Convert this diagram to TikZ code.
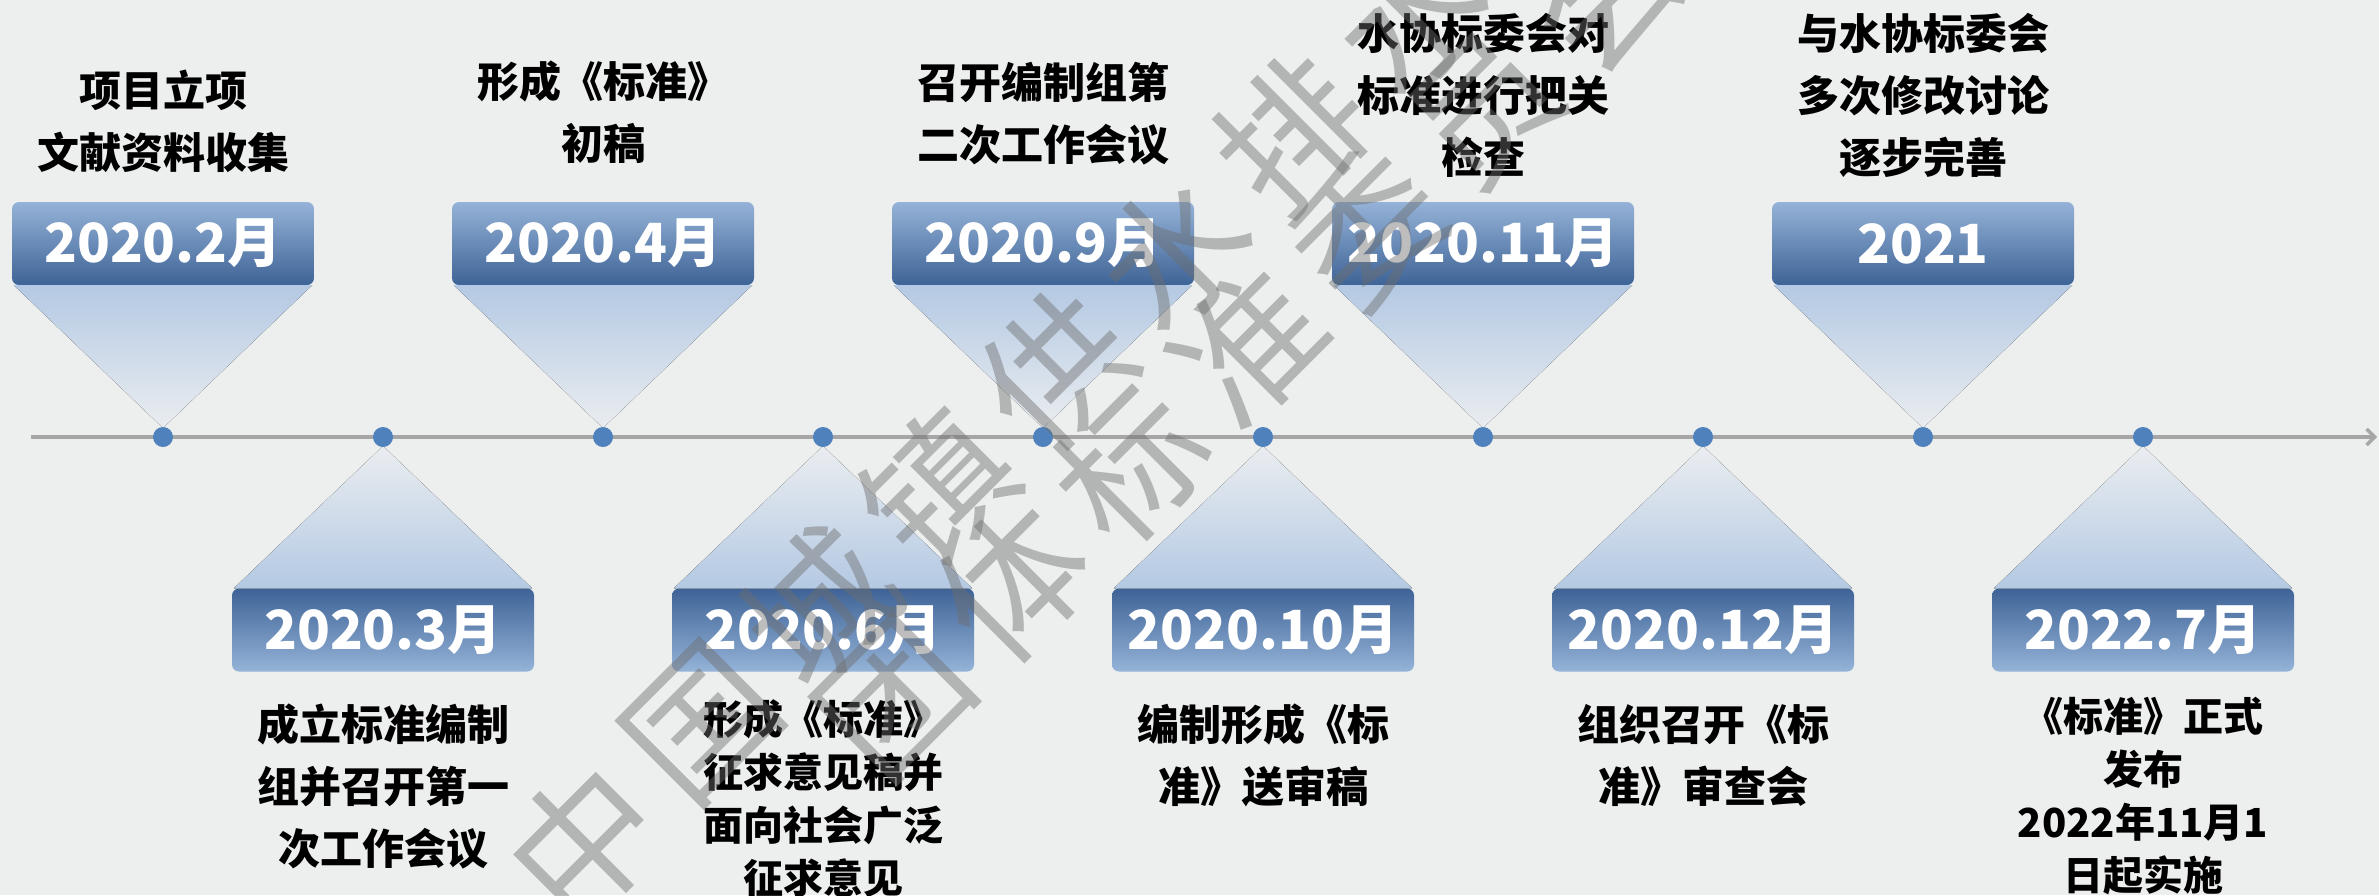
\documentclass[tikz,border=0pt]{standalone}
\usepackage{fontspec}
\newfontfamily\cjk{Noto Sans CJK SC}[BoldFont={Noto Sans CJK SC Black}]
\usetikzlibrary{arrows.meta}
\definecolor{bg}{RGB}{237,239,238}
\definecolor{boxlight}{RGB}{149,179,216}
\definecolor{boxdark}{RGB}{62,99,150}
\definecolor{funnel}{RGB}{180,201,227}
\definecolor{funnelfade}{RGB}{234,237,240}
\definecolor{dotblue}{RGB}{79,129,189}
\definecolor{axisgray}{RGB}{166,166,166}
\definecolor{wmgray}{RGB}{110,110,110}
\tikzset{
  datebox/.style={rounded corners=7pt, minimum width=302pt, minimum height=83pt, inner sep=0pt,
    text=white, font=\cjk\bfseries\fontsize{54}{60}\selectfont},
  upbox/.style={datebox, top color=boxlight, bottom color=boxdark},
  downbox/.style={datebox, top color=boxdark, bottom color=boxlight},
  upfunnel/.style={top color=funnel, bottom color=funnelfade},
  downfunnel/.style={top color=funnelfade, bottom color=funnel},
  lbl/.style={align=center, inner sep=0pt, text=black, font=\cjk\bfseries\fontsize{42}{62}\selectfont},
  lblfour/.style={lbl, font=\cjk\bfseries\fontsize{40}{53}\selectfont},
  tdot/.style={circle, fill=dotblue, minimum size=20pt, inner sep=0pt},
  axis/.style={draw=axisgray, line width=3.5pt},
  wm/.style={text=wmgray, opacity=0.45, rotate=45, inner sep=0pt, font=\cjk\fontsize{145}{145}\selectfont}
}
\begin{document}
\begin{tikzpicture}[x=1pt,y=-1pt]
\useasboundingbox (0,0) rectangle (2379,895);
\clip (0,0) rectangle (2379,895);
\fill[bg] (0,0) rectangle (2379,895);

% timeline
\coordinate (ls) at (31,437);
\coordinate (le) at (2377,437);
\draw[axis, -{Straight Barb[length=8pt,width=16pt]}] (ls) -- (le);

% upper boxes
\foreach \i/\date in {0/2020.2月,2/2020.4月,4/2020.9月,6/2020.11月,8/2021}{
  \pgfmathsetmacro\cx{163+220*\i}
  \node[upbox] (b\i) at (\cx,243.5) {\date};
  \fill[upfunnel] ([xshift=2pt]b\i.south west) -- ([xshift=-2pt]b\i.south east) -- (\cx,428) -- cycle;
}
% lower boxes
\foreach \i/\date in {1/2020.3月,3/2020.6月,5/2020.10月,7/2020.12月,9/2022.7月}{
  \pgfmathsetmacro\cx{163+220*\i}
  \node[downbox] (b\i) at (\cx,630) {\date};
  \fill[downfunnel] ([xshift=2pt]b\i.north west) -- ([xshift=-2pt]b\i.north east) -- (\cx,446) -- cycle;
}
% dots
\foreach \i in {0,...,9}{
  \node[tdot] (d\i) at ({163+220*\i},437) {};
}

% upper labels
\node[lbl] (t0) at (163,121) {项目立项\\文献资料收集};
\node[lbl] (t2) at (603,112) {形成《标准》\\初稿};
\node[lbl] (t4) at (1043,114) {召开编制组第\\二次工作会议};
\node[lbl] (t6) at (1483,95) {水协标委会对\\标准进行把关\\检查};
\node[lbl] (t8) at (1923,95) {与水协标委会\\多次修改讨论\\逐步完善};
% lower labels
\node[lbl] (t1) at (383,786) {成立标准编制\\组并召开第一\\次工作会议};
\node[lblfour] (t3) at (823,799) {形成《标准》\\征求意见稿并\\面向社会广泛\\征求意见};
\node[lbl] (t5) at (1263,755) {编制形成《标\\准》送审稿};
\node[lbl] (t7) at (1703,755) {组织召开《标\\准》审查会};
\node[lblfour] (t9) at (2143,796) {《标准》正式\\发布\\2022年11月1\\日起实施};

% watermark
\foreach \c [count=\n from 0] in {中,国,城,镇,供,水,排,水}{
  \node[wm] (wa\n) at ({584+118*\n},{842-118*\n}) {\c};
}
\foreach \c [count=\n from 0] in {团,体,标,准,委,员,会}{
  \node[wm] (wb\n) at ({895+118*\n},{700-118*\n}) {\c};
}
\end{tikzpicture}
\end{document}
